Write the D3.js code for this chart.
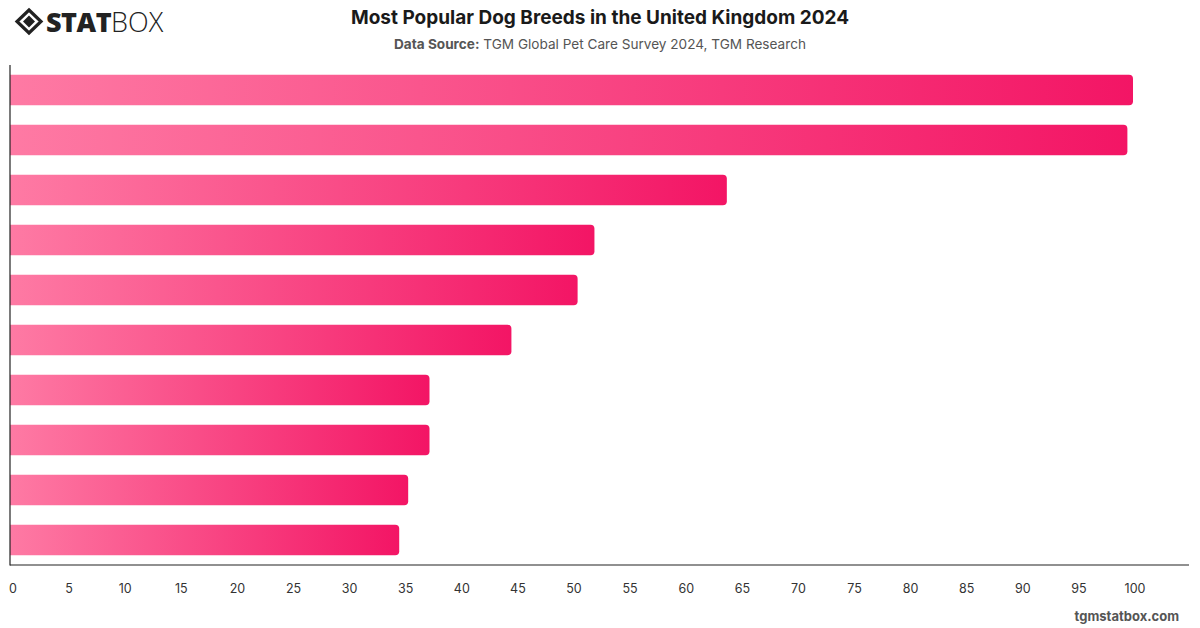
<!DOCTYPE html>
<html><head><meta charset="utf-8">
<script src="https://cdn.jsdelivr.net/npm/d3@7"></script>
<style>
body{margin:0;background:#fff;}
svg{display:block;font-family:Inter,"Noto Sans",sans-serif;}
</style></head>
<body><svg id="c" width="1200" height="628"></svg>
<script>
// Data (category names are not displayed in the reference)
const categories = ["Breed 1","Breed 2","Breed 3","Breed 4","Breed 5","Breed 6","Breed 7","Breed 8","Breed 9","Breed 10"];
const values = [100, 99.5, 63.8, 52.0, 50.5, 44.6, 37.3, 37.3, 35.4, 34.6];
const xTicks = [0,5,10,15,20,25,30,35,40,45,50,55,60,65,70,75,80,85,90,95,100];
const titleText = "Most Popular Dog Breeds in the United Kingdom 2024";
const sourceLabel = "Data Source:";
const sourceText = " TGM Global Pet Care Survey 2024, TGM Research";
const watermark = "tgmstatbox.com";

const svg = d3.select("#c");
const W = 1200, H = 628;
const m = {left:11, right:11, top:65, bottom:63};
const x = d3.scaleLinear().domain([0,100]).range([m.left, 1133]);
const y = d3.scaleBand().domain(categories).range([m.top, H - m.bottom]).paddingInner(0.39).paddingOuter(0.195);

const defs = svg.append("defs");
const grad = defs.append("linearGradient").attr("id","g").attr("x1","0").attr("x2","1").attr("y1","0").attr("y2","0");
grad.append("stop").attr("offset","0").attr("stop-color","#fe7aa4");
grad.append("stop").attr("offset","1").attr("stop-color","#f31565");

// bars with right rounded corners
const r = 4;
svg.append("g").selectAll("path").data(values).join("path")
  .attr("fill","url(#g)")
  .attr("d",(d,i)=>{
    const x0 = x(0)-1, x1 = x(d), y0 = y(categories[i]), h = y.bandwidth();
    return `M${x0},${y0}H${x1-r}Q${x1},${y0} ${x1},${y0+r}V${y0+h-r}Q${x1},${y0+h} ${x1-r},${y0+h}H${x0}Z`;
  });

// axes lines
const axisY = H - m.bottom;
svg.append("line").attr("x1",x(0)-1).attr("x2",x(0)-1).attr("y1",m.top).attr("y2",axisY+0.5).attr("stroke","#222").attr("stroke-width",1.2);
svg.append("line").attr("x1",x(0)-1).attr("x2",W - m.right).attr("y1",axisY).attr("y2",axisY).attr("stroke","#222").attr("stroke-width",1.2);

// x axis labels
const xa = svg.append("g").attr("transform",`translate(1.5,${axisY})`)
  .call(d3.axisBottom(x).tickValues(xTicks).tickSize(0).tickPadding(19));
xa.select(".domain").remove();
xa.selectAll("text").attr("font-size",12.5).attr("fill","#333").attr("font-family","Inter,'Noto Sans',sans-serif");

// title
svg.append("text").attr("x",600).attr("y",24).attr("text-anchor","middle")
  .attr("font-size",19).attr("font-weight",700).attr("fill","#1a1a1a").text(titleText);
const sub = svg.append("text").attr("x",600).attr("y",49).attr("text-anchor","middle")
  .attr("font-size",13.6).attr("fill","#555");
sub.append("tspan").attr("font-weight",700).text(sourceLabel);
sub.append("tspan").text(sourceText);

// watermark
svg.append("text").attr("x",1179).attr("y",621).attr("text-anchor","end")
  .attr("font-size",13).attr("font-weight",700).attr("fill","#555").text(watermark);

// logo
const lg = svg.append("g").attr("transform","translate(16,9)");
lg.append("path").attr("d","M13,1 L25,12.5 L13,24 L1,12.5 Z").attr("fill","none").attr("stroke","#222").attr("stroke-width",3.2);
lg.append("path").attr("d","M13,6.5 L19,12.5 L13,18.5 L7,12.5 Z").attr("fill","#222");
const lt = lg.append("text").attr("x",30).attr("y",23).attr("font-size",27).attr("fill","#222").attr("font-family","'Open Sans',Inter,sans-serif");
lt.append("tspan").attr("font-weight",800).attr("letter-spacing",-0.5).text("STAT");
lt.append("tspan").attr("font-weight",300).text("BOX");
</script></body></html>
